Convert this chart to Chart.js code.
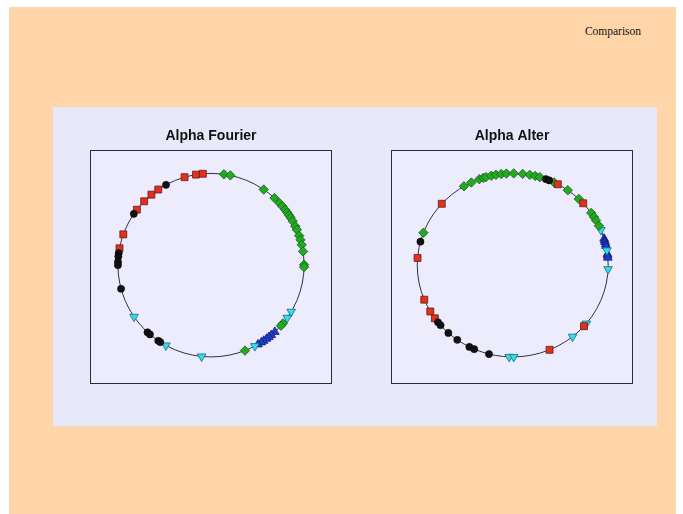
<!DOCTYPE html>
<html>
<head>
<meta charset="utf-8">
<script src="https://cdn.jsdelivr.net/npm/chart.js@4.4.0/dist/chart.umd.min.js"></script>
<style>
  body { margin: 0; background: #ffffff; width: 683px; height: 514px; overflow: hidden; position: relative; }
  #page { position: absolute; left: 9px; top: 7px; width: 667px; height: 507px; background: #FFD6A9; }
  #panel { position: absolute; left: 53px; top: 107px; width: 604px; height: 319px; background: #E7E9FB; }
  #heading { position: absolute; left: 573px; top: 25px; width: 80px; text-align: center;
    font-family: 'Liberation Serif', 'Times New Roman', serif; font-size: 11.5px; color: #111; }
  canvas { position: absolute; }
</style>
</head>
<body>
<div id="page"></div>
<div id="panel"></div>
<div id="heading">Comparison</div>
<canvas id="leftChart" width="245" height="265" style="left:89px; top:120px;"></canvas>
<canvas id="rightChart" width="245" height="265" style="left:390px; top:120px;"></canvas>
<script>
// angles (degrees, counter-clockwise from the right) of each point on the circle
var fourierRed = [106.5, 99.3, 95, 124.5, 129.8, 135.9, 142.8, 160.4, 169.4];
var fourierBlack = [118.9, 146, 172.5, 174.6, 178, 180, 194.9, 227, 229, 235.5, 237];
var fourierGreen = [82, 78, 55.5, 47, 42.5, 40, 37.2, 35, 33, 31.1, 28.7, 25.1, 22.7, 18.7, 16, 12.8, 8.6, 0.3, -1.2, 320.6, 318.7, 291.4];
var fourierCyan = [214.2, 241, 264.2, 329.5, 325, 298.1];
var fourierBlue = [313.3, 310.4, 308.5, 306.7, 304.5, 302.7, 300.3];

var alterRed = [175.5, 138, 61.8, 42.4, 202.1, 210.3, 215.4, 292.7, 318.3];
var alterBlack = [165.2, 69.7, 67.5, 218.5, 220.9, 227.6, 234.5, 243, 246.2, 255.6];
var alterGreen = [159.3, 120.7, 115.7, 110.5, 108, 106.3, 103, 100.1, 96.9, 93.8, 89.4, 84, 79.7, 76.4, 73.5, 64.3, 54.8, 46.2, 34.7, 31.6, 29.2, 25.4];
var alterCyan = [22.5, 9.3, 357.5, 267.9, 270.6, 308.8, 320.5];
var alterBlue = [16.8, 15.5, 14.5, 13, 12, 7, 6, 4.7];

function toPoints(angles) {
  return angles.map(function (a) {
    var t = a * Math.PI / 180;
    return { x: Math.cos(t), y: Math.sin(t) };
  });
}

// plot box background, frame and the unit circle
var circlePlugin = {
  id: 'circleBox',
  beforeDraw: function (chart) {
    var c = chart.ctx, a = chart.chartArea;
    c.save();
    c.fillStyle = '#ECECFC';
    c.fillRect(a.left, a.top, a.right - a.left, a.bottom - a.top);
    c.strokeStyle = '#2a2a3a';
    c.lineWidth = 1;
    c.strokeRect(Math.round(a.left) + 0.5, Math.round(a.top) + 0.5,
      Math.round(a.right - a.left) - 1, Math.round(a.bottom - a.top) - 1);
    c.restore();
  },
  beforeDatasetsDraw: function (chart) {
    var c = chart.ctx, xs = chart.scales.x, ys = chart.scales.y;
    var cx = xs.getPixelForValue(0), cy = ys.getPixelForValue(0);
    var rx = xs.getPixelForValue(1) - cx, ry = cy - ys.getPixelForValue(1);
    c.save();
    c.strokeStyle = '#333340';
    c.lineWidth = 1;
    c.beginPath();
    c.ellipse(cx, cy, rx, ry, 0, 0, Math.PI * 2);
    c.stroke();
    c.restore();
  }
};

function makeChart(id, title, red, black, green, cyan, blue, xMin, xMax) {
  var ctx = document.getElementById(id).getContext('2d');
  return new Chart(ctx, {
    type: 'scatter',
    data: {
      datasets: [
        { data: toPoints(black), pointStyle: 'circle', pointRadius: 3.6, backgroundColor: '#111111', borderColor: '#000000', borderWidth: 0.5 },
        { data: toPoints(red), pointStyle: 'rect', pointRadius: 4.9, backgroundColor: '#E0301E', borderColor: '#6a1a10', borderWidth: 0.8 },
        { data: toPoints(green), pointStyle: 'rectRot', pointRadius: 4.7, backgroundColor: '#22AA22', borderColor: '#1d5a1d', borderWidth: 0.8 },
        { data: toPoints(cyan), pointStyle: 'triangle', rotation: 180, pointRadius: 5, backgroundColor: '#33DDEE', borderColor: '#1a6a78', borderWidth: 0.8 },
        { data: toPoints(blue), pointStyle: 'triangle', pointRadius: 5, backgroundColor: '#1F3BD0', borderColor: '#121e70', borderWidth: 0.8 }
      ]
    },
    options: {
      responsive: false,
      animation: false,
      layout: { autoPadding: false, padding: { left: 1, right: 2, top: 0, bottom: 1 } },
      scales: {
        x: { type: 'linear', display: false, min: xMin, max: xMax },
        y: { type: 'linear', display: false, min: -1.295, max: 1.255 }
      },
      plugins: {
        legend: { display: false },
        tooltip: { enabled: false },
        title: {
          display: true,
          text: title,
          color: '#111111',
          font: { family: "'Liberation Sans', Arial, sans-serif", size: 14, weight: 'bold' },
          padding: { top: 7.5, bottom: 5.7 }
        }
      }
    },
    plugins: [circlePlugin]
  });
}

makeChart('leftChart', 'Alpha Fourier', fourierRed, fourierBlack, fourierGreen, fourierCyan, fourierBlue, -1.3, 1.3);
makeChart('rightChart', 'Alpha Alter', alterRed, alterBlack, alterGreen, alterCyan, alterBlue, -1.275, 1.26);
</script>
</body>
</html>
